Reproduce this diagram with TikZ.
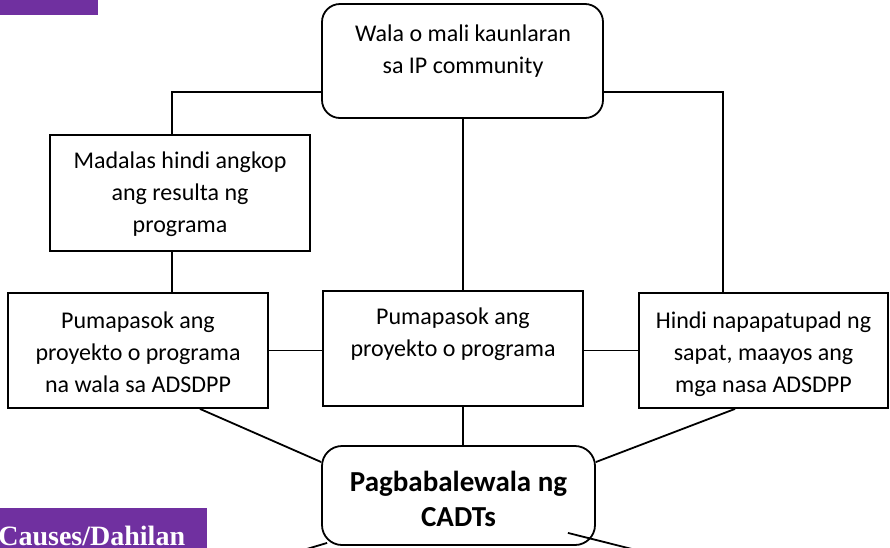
\documentclass[tikz,border=0pt]{standalone}
\usepackage{fontspec}
\setmainfont{Carlito}
\newfontfamily\headfont{Liberation Serif}
\definecolor{banner}{HTML}{7030A0}
\begin{document}
\begin{tikzpicture}[x=1pt,y=-1pt,
  line width=1.8pt,
  boxnode/.style={draw, line width=1.8pt, inner sep=0pt, fill=white},
  roundbox/.style={boxnode, rounded corners=18pt},
  txt/.style={align=center, inner sep=0pt, font=\fontsize{24}{32}\selectfont},
  bigtxt/.style={align=center, inner sep=0pt, font=\fontsize{29}{35}\selectfont\bfseries}]
\useasboundingbox (0,0) rectangle (890,547);
\clip (0,0) rectangle (890,547);

% banners
\fill[banner] (0,0) rectangle (98,15);
\fill[banner] (0,508) rectangle (207,560);
\node[anchor=base east, inner sep=0pt, text=white,
      font=\headfont\bfseries\fontsize{28}{30}\selectfont] (cause) at (186,545) {Causes/Dahilan};

% vertical guide positions of the connectors
\coordinate (lv) at (172,0);
\coordinate (cv) at (463,0);
\coordinate (rv) at (723,0);

% boxes
\node[roundbox, minimum width=281pt, minimum height=114pt] (top) at (462.5,61) {};
\node[boxnode, minimum width=260pt, minimum height=116pt] (mad) at (180,193) {};
\node[boxnode, minimum width=260pt, minimum height=115pt] (left) at (138,350.5) {};
\node[boxnode, minimum width=260pt, minimum height=115pt] (center) at (453,348.5) {};
\node[boxnode, minimum width=249pt, minimum height=115pt] (right) at (763.5,350.5) {};
\node[roundbox, rounded corners=20pt, minimum width=273pt, minimum height=99pt] (bottom) at (458.5,495.5) {};

% texts
\node[txt] (ttop) at (463,51) {Wala o mali kaunlaran\\sa IP community};
\node[txt] (tmad) at (180,194) {Madalas hindi angkop\\ang resulta ng\\programa};
\node[txt] (tleft) at (138,352) {Pumapasok ang\\proyekto o programa\\na wala sa ADSDPP};
\node[txt] (tcenter) at (453,334) {Pumapasok ang\\proyekto o programa};
\node[txt] (tright) at (763.5,354) {Hindi napapatupad ng\\sapat, maayos ang\\mga nasa ADSDPP};
\node[bigtxt] (tbottom) at (458.5,499) {Pagbabalewala ng\\CADTs};

% connectors
\draw ([yshift=-31pt]top.west) -| (lv |- mad.north);
\draw (lv |- mad.south) -- (lv |- left.north);
\draw ([yshift=-31pt]top.east) -| (rv |- right.north);
\draw (cv |- top.south) -- (cv |- center.north);
\draw (left.east) -- (left.east -| center.west);
\draw (center.east |- right.west) -- (right.west);
\draw (cv |- center.south) -- (cv |- bottom.north);
\draw ([xshift=62pt]left.south) -- ([yshift=33.5pt]bottom.west);
\draw ([xshift=-28.5pt]right.south) -- ([yshift=33.5pt]bottom.east);

% links leaving towards the lower part
\coordinate (lo) at (280,557);
\coordinate (ro) at (665,557.3);
\draw ([shift={(6pt,3pt)}]bottom.south west) -- (lo);
\draw ([shift={(-28pt,13pt)}]bottom.south east) -- (ro);
\end{tikzpicture}
\end{document}
